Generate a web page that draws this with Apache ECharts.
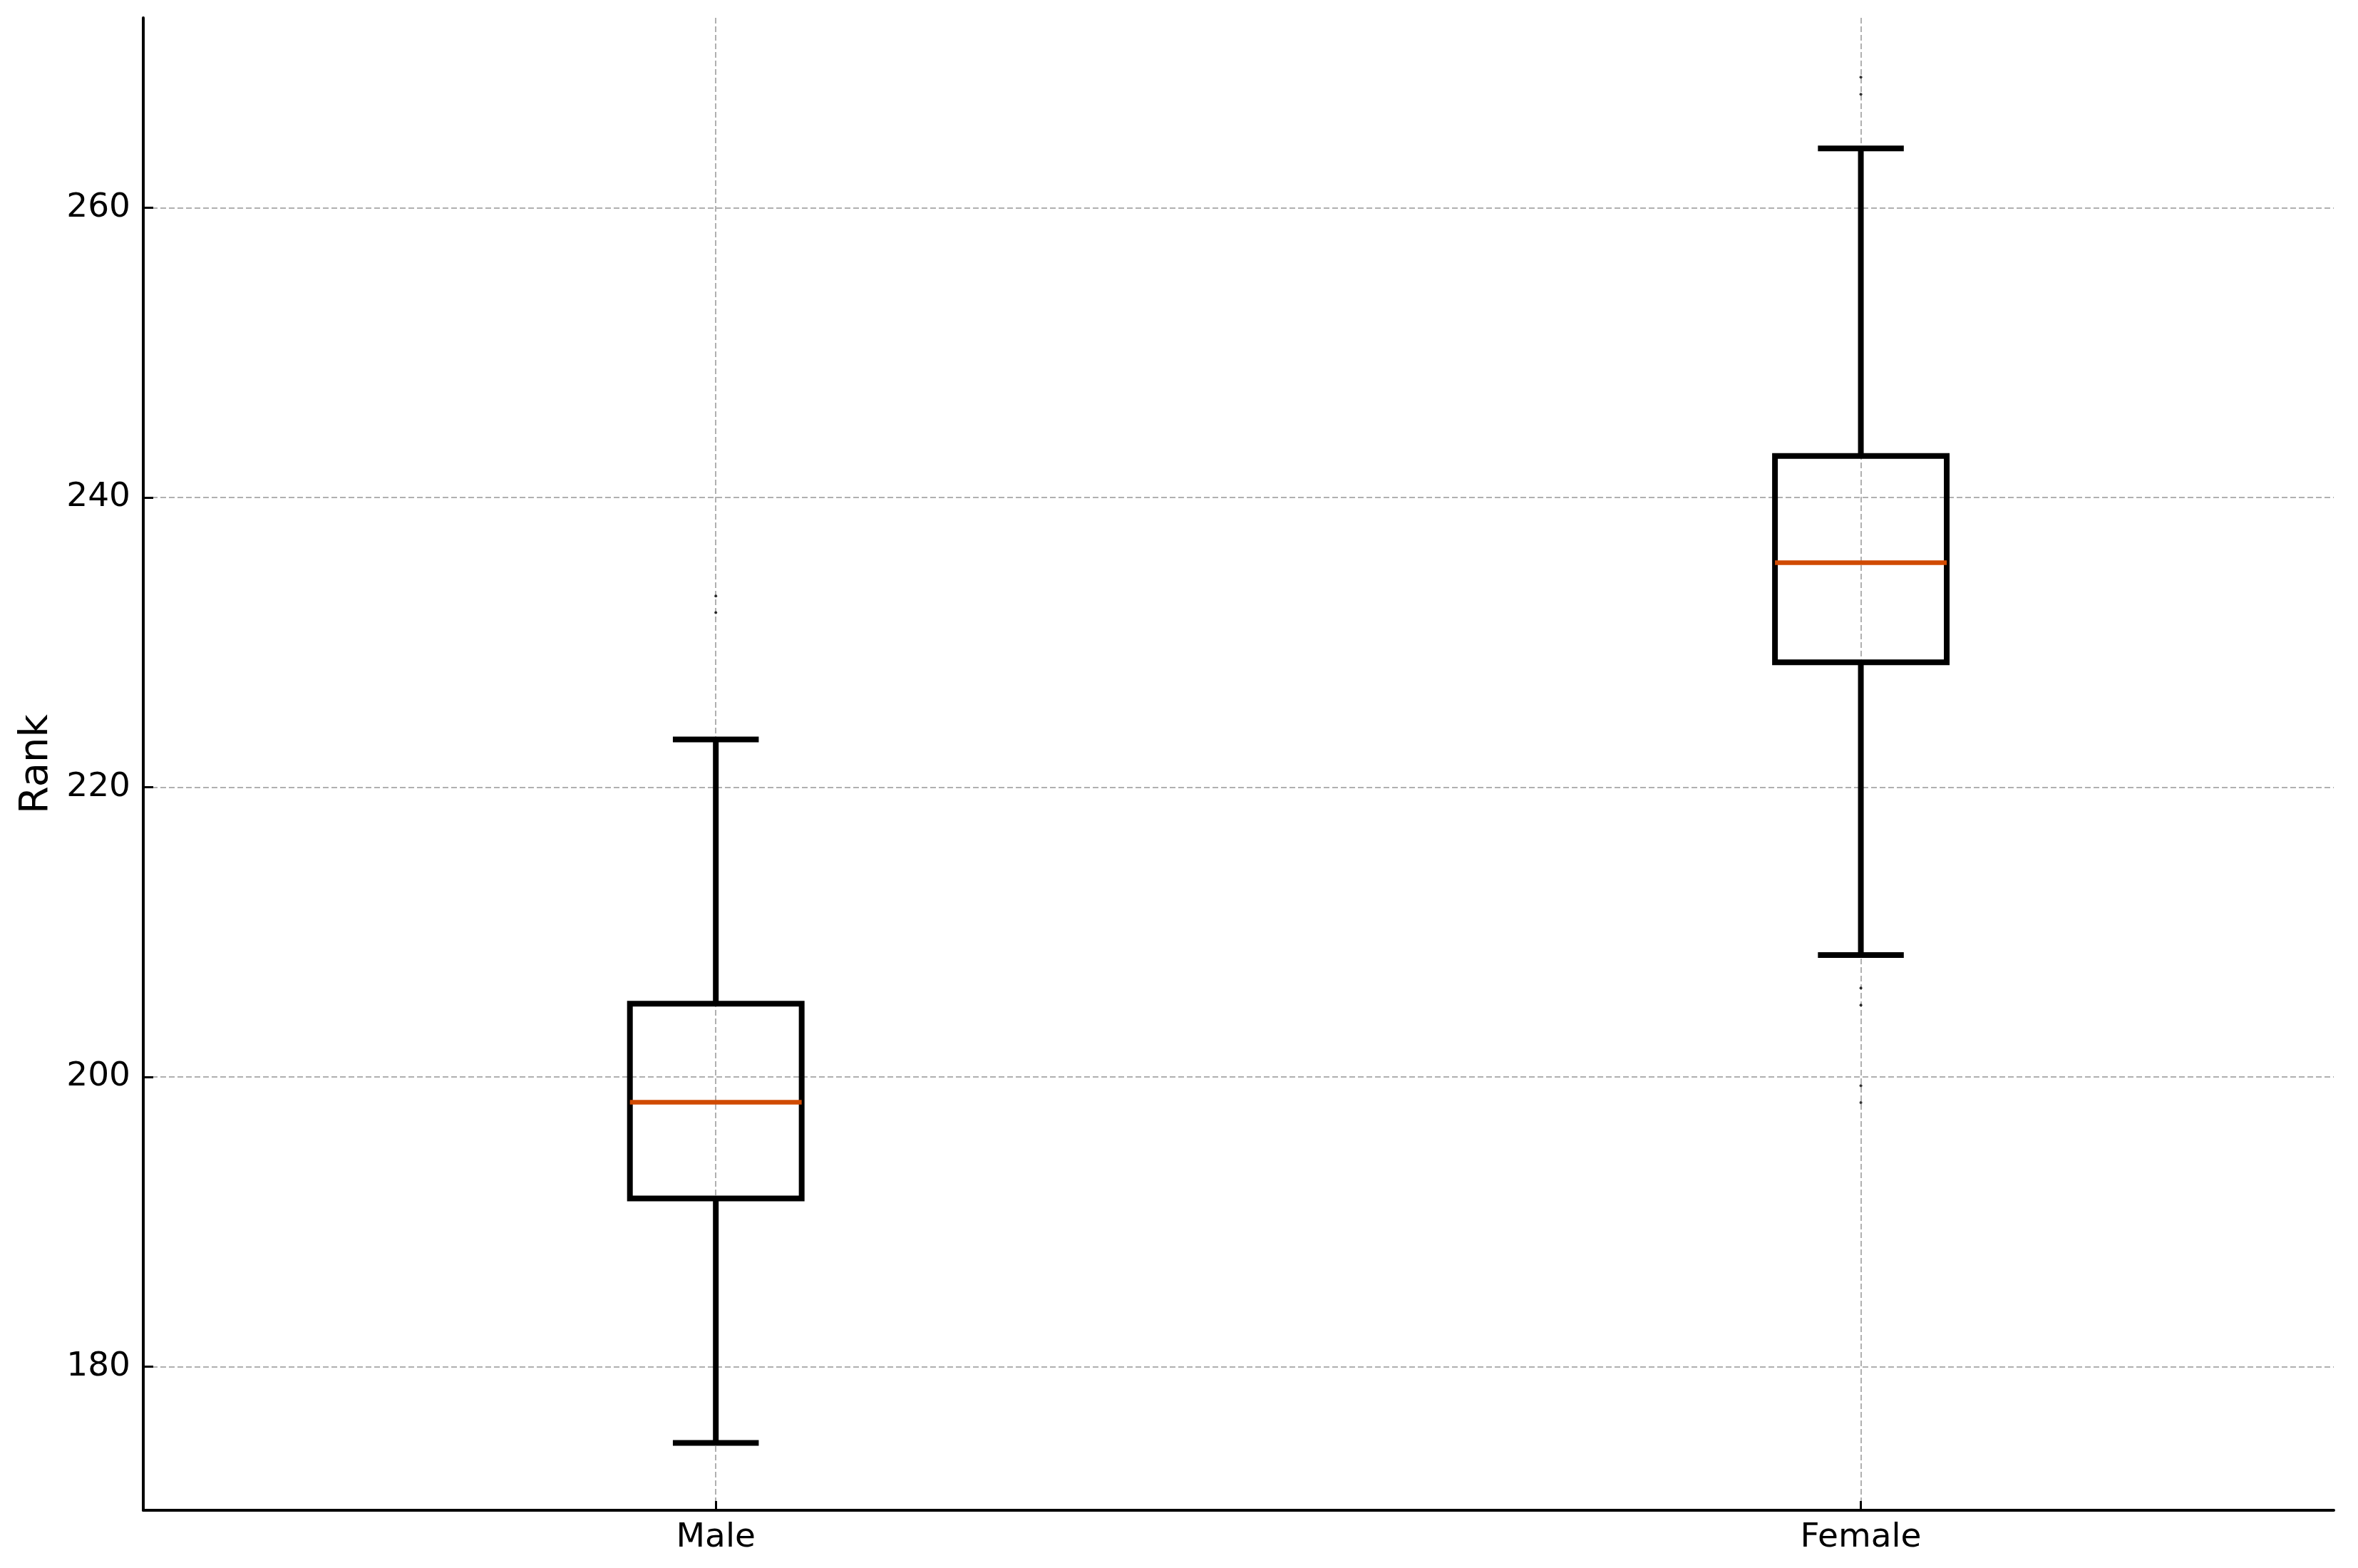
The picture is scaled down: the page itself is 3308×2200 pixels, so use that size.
<!DOCTYPE html>
<html>
<head>
<meta charset="utf-8">
<script src="https://cdn.jsdelivr.net/npm/echarts@6/dist/echarts.min.js"></script>
<style>
html, body { margin: 0; padding: 0; background: #fff; }
#chart { width: 3308px; height: 2200px; }
</style>
</head>
<body>
<div id="chart"></div>
<script>
// ---- data ----
const categories = ['Male', 'Female'];
const positions = [1, 2];
const mins = [174.75, 208.42];
const q1s = [191.62, 228.62];
const medians = [198.26, 235.5];
const q3s = [205.06, 242.86];
const maxs = [223.3, 264.09];
const maleOutliers = [233.19, 232.05];
const femaleOutliers = [269.0, 267.82, 206.14, 204.96, 199.4, 198.24];
const yTicks = [180, 200, 220, 240, 260];
const yName = 'Rank';

// ---- build ----
const boxData = positions.map((p, i) => [p, mins[i], q1s[i], medians[i], q3s[i], maxs[i]]);
const flierData = []
  .concat(maleOutliers.map(v => [positions[0], v]))
  .concat(femaleOutliers.map(v => [positions[1], v]));

const FONT = 'DejaVu Sans';
const LW = 8;

function renderBox(params, api) {
  const x = api.value(0);
  const pMin = api.coord([x, api.value(1)]);
  const pQ1 = api.coord([x, api.value(2)]);
  const pMed = api.coord([x, api.value(3)]);
  const pQ3 = api.coord([x, api.value(4)]);
  const pMax = api.coord([x, api.value(5)]);
  const boxW = api.size([0.15, 0])[0];
  const capW = boxW / 2;
  const cx = pMed[0];
  const black = { stroke: '#000', lineWidth: LW, fill: null };
  return {
    type: 'group',
    children: [
      { type: 'line', shape: { x1: cx, y1: pMin[1], x2: cx, y2: pQ1[1] }, style: black },
      { type: 'line', shape: { x1: cx, y1: pQ3[1], x2: cx, y2: pMax[1] }, style: black },
      { type: 'line', shape: { x1: cx - capW / 2, y1: pMin[1], x2: cx + capW / 2, y2: pMin[1] }, style: black },
      { type: 'line', shape: { x1: cx - capW / 2, y1: pMax[1], x2: cx + capW / 2, y2: pMax[1] }, style: black },
      { type: 'rect', shape: { x: cx - boxW / 2, y: pQ3[1], width: boxW, height: pQ1[1] - pQ3[1] },
        style: { stroke: '#000', lineWidth: LW, fill: 'none', lineJoin: 'miter' } },
      { type: 'line', shape: { x1: cx - boxW / 2, y1: pMed[1], x2: cx + boxW / 2, y2: pMed[1] },
        style: { stroke: '#d04a02', lineWidth: 6.5 } }
    ]
  };
}

const chart = echarts.init(document.getElementById('chart'), null, { renderer: 'canvas' });
chart.setOption({
  animation: false,
  backgroundColor: '#fff',
  grid: { left: 201, right: 34, top: 25, bottom: 81, containLabel: false },
  xAxis: {
    type: 'value',
    min: 0.5,
    max: 2.413,
    axisLine: { show: true, lineStyle: { color: '#000', width: 4 } },
    axisTick: { show: true, inside: true, length: 13, lineStyle: { color: '#000', width: 3 }, customValues: positions },
    axisLabel: {
      customValues: positions,
      formatter: v => categories[positions.indexOf(Math.round(v))] || '',
      fontFamily: FONT, fontSize: 47, color: '#000', margin: 15
    },
    splitLine: { show: true, lineStyle: { color: '#b0b0b0', width: 2, type: [8, 4] } }
  },
  yAxis: {
    type: 'value',
    min: 170.1,
    max: 273.1,
    name: yName,
    nameLocation: 'middle',
    nameGap: 122,
    nameRotate: 90,
    nameTextStyle: { fontFamily: FONT, fontSize: 56, color: '#000' },
    axisLine: { show: true, lineStyle: { color: '#000', width: 4 } },
    axisTick: { show: true, inside: true, length: 14, lineStyle: { color: '#000', width: 3 }, customValues: yTicks },
    axisLabel: { customValues: yTicks, fontFamily: FONT, fontSize: 47, color: '#000', margin: 18 },
    splitLine: { show: true, lineStyle: { color: '#b0b0b0', width: 2, type: [8, 4] } }
  },
  series: [
    {
      type: 'custom',
      renderItem: renderBox,
      data: boxData,
      encode: { x: 0, y: [1, 2, 3, 4, 5] },
      clip: false,
      z: 3
    },
    {
      type: 'scatter',
      data: flierData,
      symbol: 'circle',
      symbolSize: 4,
      itemStyle: { color: '#000' },
      z: 4
    }
  ]
});
</script>
</body>
</html>
